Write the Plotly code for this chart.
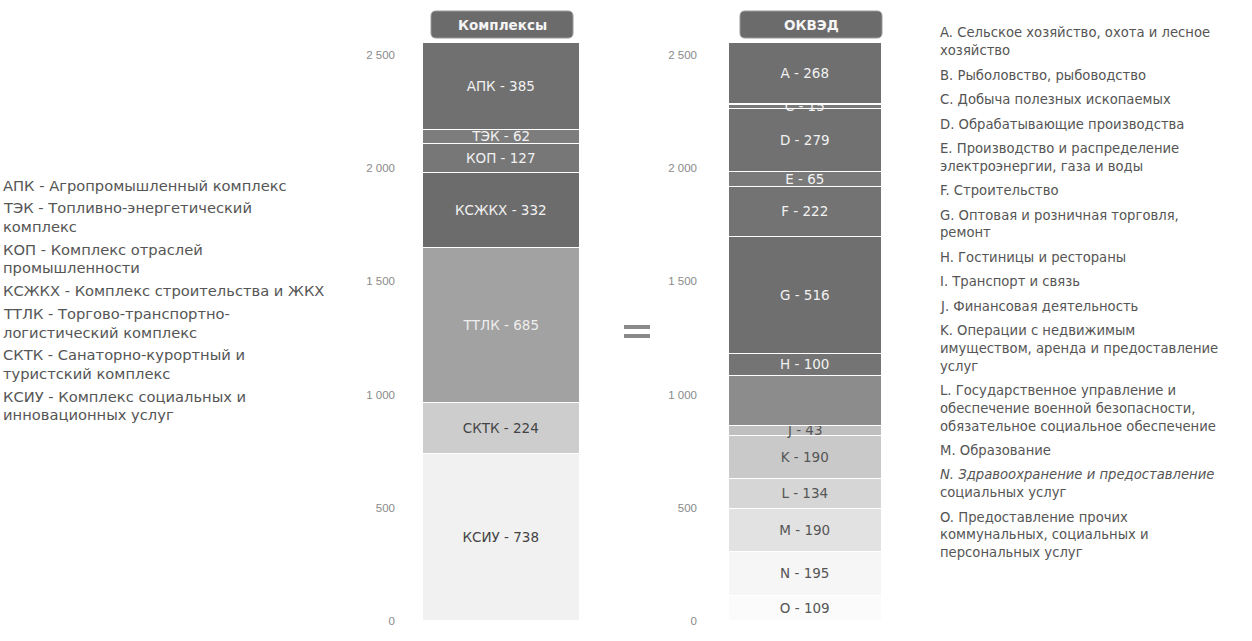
import plotly.graph_objects as go

W, H = 1252, 641
MT, MB = 43, 20

# ---------- data ----------
complex_codes = ["КСИУ", "СКТК", "ТТЛК", "КСЖКХ", "КОП", "ТЭК", "АПК"]
complex_values = [738, 224, 685, 332, 127, 62, 385]
complex_colors = ["#f1f1f1", "#cdcdcd", "#a2a2a2", "#6c6c6c", "#777777", "#7d7d7d", "#707070"]
complex_textcolors = ["#444444", "#444444", "#eeeeee", "#f2f2f2", "#f2f2f2", "#f2f2f2", "#f2f2f2"]

okved_codes = ["O", "N", "M", "L", "K", "J", "I", "H", "G", "F", "E", "D", "C", "B", "A"]
okved_values = [109, 195, 190, 134, 190, 43, 219, 100, 516, 222, 65, 279, 15, 8, 268]
okved_colors = ["#fbfbfb", "#f6f6f6", "#e2e2e2", "#d6d6d6", "#c9c9c9", "#bfbfbf", "#8c8c8c",
                "#747474", "#6f6f6f", "#737373", "#7a7a7a", "#717171", "#7a7a7a", "#7a7a7a", "#6f6f6f"]
okved_textcolors = ["#555555", "#555555", "#555555", "#555555", "#555555", "#555555", "#f2f2f2",
                    "#f2f2f2", "#f2f2f2", "#f2f2f2", "#f2f2f2", "#f2f2f2", "#f2f2f2", "#f2f2f2", "#f2f2f2"]
okved_show_label = [True, True, True, True, True, True, False, True, True, True, True, True, True, False, True]

tick_values = [0, 500, 1000, 1500, 2000, 2500]
tick_labels = ["0", "500", "1 000", "1 500", "2 000", "2 500"]

left_legend = [
    ["АПК - Агропромышленный комплекс"],
    ["ТЭК - Топливно-энергетический", "комплекс"],
    ["КОП - Комплекс отраслей", "промышленности"],
    ["КСЖКХ - Комплекс строительства и ЖКХ"],
    ["ТТЛК - Торгово-транспортно-", "логистический комплекс"],
    ["СКТК - Санаторно-курортный и", "туристский комплекс"],
    ["КСИУ - Комплекс социальных и", "инновационных услуг"],
]
right_legend = [
    ["A. Сельское хозяйство, охота и лесное", "хозяйство"],
    ["B. Рыболовство, рыбоводство"],
    ["C. Добыча полезных ископаемых"],
    ["D. Обрабатывающие производства"],
    ["E. Производство и распределение", "электроэнергии, газа и воды"],
    ["F. Строительство"],
    ["G. Оптовая и розничная торговля,", "ремонт"],
    ["H. Гостиницы и рестораны"],
    ["I. Транспорт и связь"],
    ["J. Финансовая деятельность"],
    ["K. Операции с недвижимым", "имуществом, аренда и предоставление", "услуг"],
    ["L. Государственное управление и", "обеспечение военной безопасности,", "обязательное социальное обеспечение"],
    ["M. Образование"],
    ["<i>N. Здравоохранение и предоставление</i>", "социальных услуг"],
    ["O. Предоставление прочих", "коммунальных, социальных и", "персональных услуг"],
]

# ---------- helpers (pixel -> paper) ----------
PH = H - MT - MB
def px(x):
    return x / W
def py(y):
    return (H - MB - y) / PH

FONT = "DejaVu Sans, Verdana, sans-serif"
TFONT = "Liberation Sans, Arial, sans-serif"

fig = go.Figure()

for code, v, c, tc in zip(complex_codes, complex_values, complex_colors, complex_textcolors):
    fig.add_trace(go.Bar(
        x=[0], y=[v], width=1, xaxis="x", yaxis="y",
        marker=dict(color=c, line=dict(color="white", width=1.5)),
        text=[f"{code} - {v}"], textposition="inside", insidetextanchor="middle",
        textangle=0, textfont=dict(color=tc, size=13.5, family=FONT),
        showlegend=False, hoverinfo="skip"))

for code, v, c, tc, sl in zip(okved_codes, okved_values, okved_colors, okved_textcolors, okved_show_label):
    fig.add_trace(go.Bar(
        x=[0], y=[v], width=1, xaxis="x2", yaxis="y2",
        marker=dict(color=c, line=dict(color="white", width=1.5)),
        text=[f"{code} - {v}" if sl else ""], textposition="inside", insidetextanchor="middle",
        textangle=0, textfont=dict(color=tc, size=13.5, family=FONT),
        showlegend=False, hoverinfo="skip"))

ymax = 2553
yax = dict(range=[0, ymax], showgrid=False, zeroline=False, showline=False, ticks="",
           tickvals=tick_values, ticktext=tick_labels, automargin=False,
           tickfont=dict(color="#8a8a8a", size=11.5, family=TFONT), fixedrange=True)

fig.update_layout(
    width=W, height=H, autosize=False,
    margin=dict(l=0, r=0, t=MT, b=MB, pad=0),
    paper_bgcolor="white", plot_bgcolor="white",
    barmode="stack", bargap=0,
    uniformtext=dict(minsize=13.5, mode="show"),
    xaxis=dict(domain=[px(423), px(580)], range=[-0.5, 0.5], visible=False, anchor="y"),
    xaxis2=dict(domain=[px(729), px(882)], range=[-0.5, 0.5], visible=False, anchor="y2"),
    yaxis=dict(anchor="x", ticklabelstandoff=27, **yax),
    yaxis2=dict(anchor="x2", ticklabelstandoff=31, **yax),
)

# ---------- header boxes ----------
def rounded_box(x0, y0, x1, y1, r):
    return (f"M {px(x0 + r)},{py(y0)} L {px(x1 - r)},{py(y0)} "
            f"Q {px(x1)},{py(y0)} {px(x1)},{py(y0 + r)} L {px(x1)},{py(y1 - r)} "
            f"Q {px(x1)},{py(y1)} {px(x1 - r)},{py(y1)} L {px(x0 + r)},{py(y1)} "
            f"Q {px(x0)},{py(y1)} {px(x0)},{py(y1 - r)} L {px(x0)},{py(y0 + r)} "
            f"Q {px(x0)},{py(y0)} {px(x0 + r)},{py(y0)} Z")

for (x0, x1, label) in [(431, 573, "Комплексы"), (740, 882, "ОКВЭД")]:
    fig.add_shape(type="path", xref="paper", yref="paper",
                  path=rounded_box(x0, 11, x1, 38, 5),
                  fillcolor="#6b6b6b", line=dict(color="#9a9a9a", width=1), layer="above")
    fig.add_annotation(x=px((x0 + x1) / 2), y=py(24.5), xref="paper", yref="paper",
                       text=f"<b>{label}</b>", showarrow=False,
                       font=dict(color="#f5f5f5", size=13.5, family=FONT),
                       xanchor="center", yanchor="middle")

# equals sign
fig.add_shape(type="rect", xref="paper", yref="paper",
              x0=px(624), x1=px(650), y0=py(325), y1=py(329),
              fillcolor="#8a8a8a", line=dict(width=0))
fig.add_shape(type="rect", xref="paper", yref="paper",
              x0=px(624), x1=px(650), y0=py(334), y1=py(338),
              fillcolor="#8a8a8a", line=dict(width=0))

# ---------- side legends ----------
def add_lines(items, x, y_start, line_h, gap, size):
    y = y_start
    for item in items:
        for line in item:
            fig.add_annotation(x=px(x), y=py(y), xref="paper", yref="paper",
                               text=line, showarrow=False, xanchor="left", yanchor="middle",
                               font=dict(color="#555555", size=size, family=FONT))
            y += line_h
        y += gap

add_lines(left_legend, 1, 185, 18.5, 4.4, 14.7)
add_lines(right_legend, 938, 33, 17.8, 6.6, 13.2)

fig.write_html("out.html", config={"displayModeBar": False},
               post_script="document.body.style.margin='0px';")
